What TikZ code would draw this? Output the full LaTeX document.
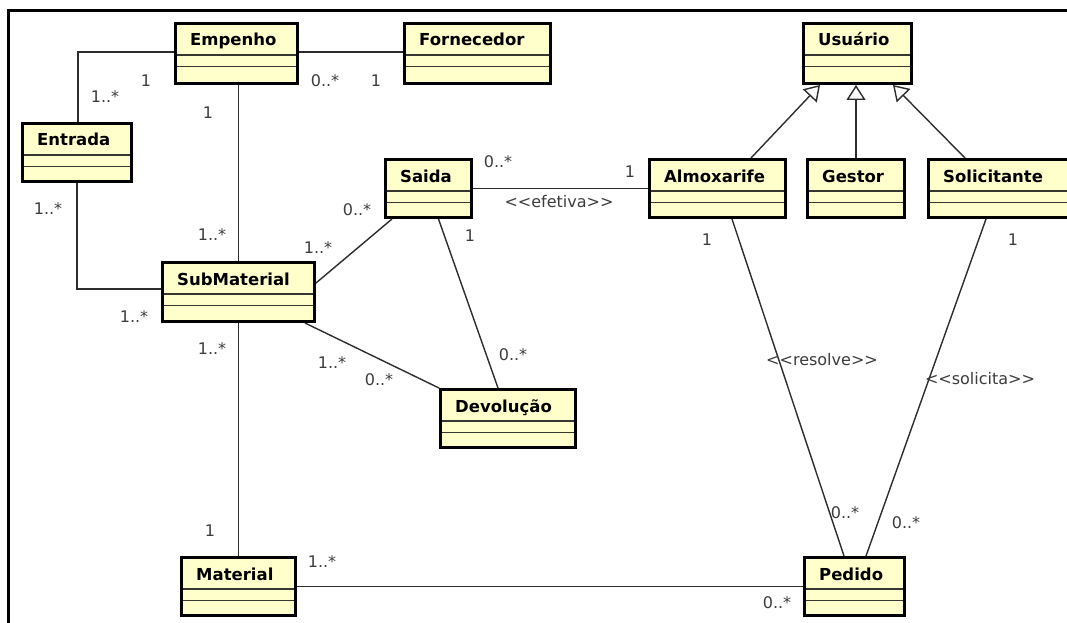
\documentclass[tikz,border=0pt]{standalone}
\usepackage{fontspec}
\setmainfont{DejaVu Sans}
\usetikzlibrary{arrows.meta}
\definecolor{classfill}{RGB}{255,255,204}
\definecolor{linegray}{RGB}{45,45,45}
\definecolor{divgray}{RGB}{55,55,50}
\definecolor{labelgray}{RGB}{60,60,60}
\tikzset{
  classbox/.style={draw=black, line width=3pt, fill=classfill, inner sep=0pt, outer sep=1.5pt, rectangle},
  divider/.style={draw=divgray, line width=1.5pt},
  classname/.style={font=\bfseries\fontsize{16.5}{18}\selectfont, anchor=base west, inner sep=0pt, text=black},
  assoc/.style={draw=linegray, line width=1.4pt},
  mult/.style={font=\fontsize{16}{18}\selectfont, text=labelgray, inner sep=0pt},
  gen/.style={assoc, -{Triangle[open, length=15pt, width=19pt, fill=white, line width=1.4pt]}},
  frameline/.style={draw=black, line width=3pt},
}
\newcommand\umlclass[6]{%
  \node[classbox, minimum width={(#4-#2-3)*1pt}, minimum height={(#5-#3-3)*1pt}] (#1) at ({(#2+#4)/2},{(#3+#5)/2}) {};
  \draw[divider] ({#2+3},{#3+33}) -- ({#4-3},{#3+33});
  \draw[divider] ({#2+3},{#3+44.5}) -- ({#4-3},{#3+44.5});
  \node[classname] (#1-name) at ({#2+16},{#3+24}) {#6};
}
\begin{document}
\begin{tikzpicture}[x=1pt, y=-1pt]
\useasboundingbox (0,0) rectangle (1067,623);
% frame
\draw[frameline] (8.7,640) -- (8.7,11) -- (1080,11);
% classes
\umlclass{Empenho}{174}{22}{299}{85}{Empenho}
\umlclass{Fornecedor}{403}{22}{552}{85}{Fornecedor}
\umlclass{Usuario}{802}{22}{913}{85}{Usuário}
\umlclass{Entrada}{21}{122}{133}{183}{Entrada}
\umlclass{Saida}{384}{158}{473}{219}{Saida}
\umlclass{Almoxarife}{648}{158}{787}{219}{Almoxarife}
\umlclass{Gestor}{806}{158}{906}{219}{Gestor}
\umlclass{Solicitante}{927}{158}{1085}{219}{Solicitante}
\umlclass{SubMaterial}{161}{261}{316}{323}{SubMaterial}
\umlclass{Devolucao}{439}{388}{577}{449}{Devolução}
\umlclass{Material}{180}{556}{297}{617}{Material}
\umlclass{Pedido}{803}{556}{906}{617}{Pedido}
% associations
\draw[assoc] ([yshift=1.5pt]Empenho.west) -| ([xshift=1pt]Entrada.north);
\draw[assoc] ([yshift=1.5pt]Empenho.east) -- ([yshift=1.5pt]Fornecedor.west);
\draw[assoc] (Empenho.south -| SubMaterial.north) -- (SubMaterial.north);
\draw[assoc] (Entrada.south) |- ([yshift=3pt]SubMaterial.west);
\draw[assoc] ([yshift=9pt]SubMaterial.east) -- ([xshift=8pt]Saida.south west);
\draw[assoc] (SubMaterial.south) -- (Material.north);
\draw[assoc] ([xshift=-11pt]SubMaterial.south east) -- (Devolucao.north west);
\draw[assoc] ([xshift=10pt]Saida.south) -- ([xshift=-10pt]Devolucao.north);
\draw[assoc] (Saida.east) -- (Almoxarife.west);
\draw[assoc] ([xshift=14.5pt]Almoxarife.south) -- ([xshift=-10.5pt]Pedido.north);
\draw[assoc] ([xshift=59pt]Solicitante.south west) -- ([xshift=11.5pt]Pedido.north);
\draw[assoc] (Material.east) -- (Pedido.west);
% generalizations
\draw[gen] ([xshift=33.5pt]Almoxarife.north) -- ([xshift=-37.5pt]Usuario.south);
\draw[gen] (Gestor.north) -- (Gestor.north |- Usuario.south);
\draw[gen] ([xshift=38pt]Solicitante.north west) -- ([xshift=35.5pt]Usuario.south);
% multiplicities and labels
\node[mult] (l1) at (146,81) {1};
\node[mult] (l2) at (105,97) {1..*};
\node[mult] (l3) at (208,113) {1};
\node[mult] (l4) at (325,81) {0..*};
\node[mult] (l5) at (376,81) {1};
\node[mult] (l6) at (498,162) {0..*};
\node[mult] (l7) at (630,172) {1};
\node[mult] (l8) at (559,202) {<\kern0pt<efetiva>\kern0pt>};
\node[mult] (l9) at (357,210) {0..*};
\node[mult] (l10) at (707,240) {1};
\node[mult] (l11) at (1013,240) {1};
\node[mult] (l12) at (822,360) {<\kern0pt<resolve>\kern0pt>};
\node[mult] (l13) at (980,379) {<\kern0pt<solicita>\kern0pt>};
\node[mult] (l14) at (48,209) {1..*};
\node[mult] (l15) at (212,235) {1..*};
\node[mult] (l16) at (318,248) {1..*};
\node[mult] (l17) at (134,317) {1..*};
\node[mult] (l18) at (212,349) {1..*};
\node[mult] (l19) at (332,363) {1..*};
\node[mult] (l20) at (379,380) {0..*};
\node[mult] (l21) at (513,355) {0..*};
\node[mult] (l22) at (470,236) {1};
\node[mult] (l23) at (210,531) {1};
\node[mult] (l24) at (322,562) {1..*};
\node[mult] (l25) at (845,513) {0..*};
\node[mult] (l26) at (906,523) {0..*};
\node[mult] (l27) at (777,603) {0..*};
\end{tikzpicture}
\end{document}
